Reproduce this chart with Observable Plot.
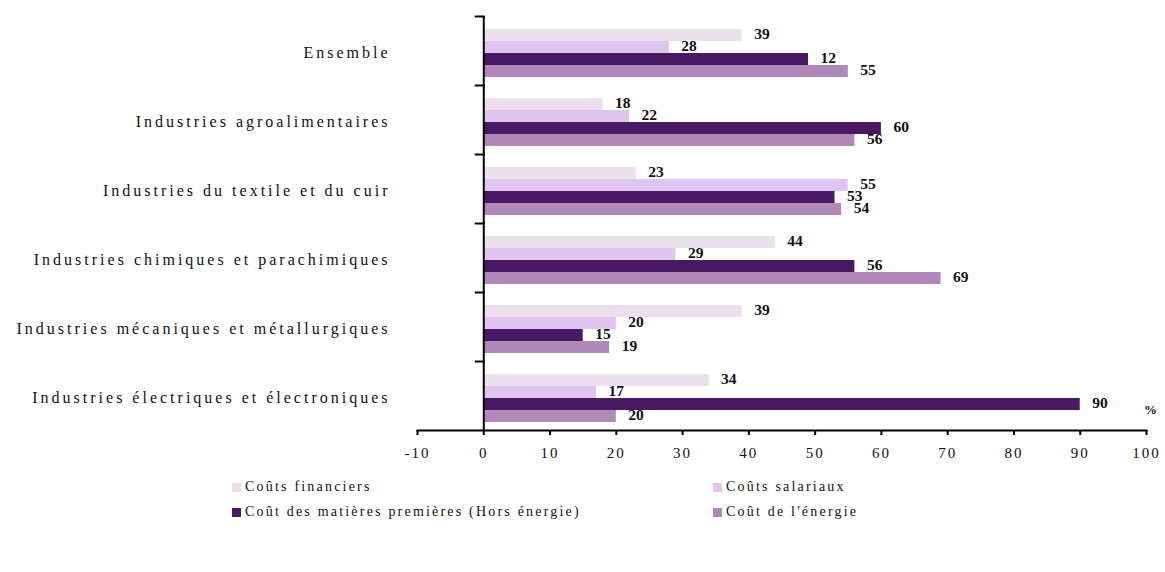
<!DOCTYPE html>
<html>
<head>
<meta charset="utf-8">
<script src="https://cdn.jsdelivr.net/npm/d3@7"></script>
<script src="https://cdn.jsdelivr.net/npm/@observablehq/plot@0.6"></script>
<style>
  body { margin: 0; background: #fff; font-family: "Liberation Serif", serif; }
  #chart { position: relative; width: 1165px; height: 572px; }
  #legend { position: absolute; left: 232px; top: 478px; display: grid; grid-template-columns: 481px 300px; row-gap: 7px; font-size: 14px; letter-spacing: 2.2px; color: #111; }
  .item { display: flex; align-items: center; height: 18px; }
  .sw { width: 9px; height: 9px; margin-right: 4px; }
  g[aria-description="category-labels"] text { letter-spacing: 3px; }
  g[aria-label="x-axis tick label"] text { letter-spacing: 2px; }
</style>
</head>
<body>
<div id="chart"></div>
<script>
const categories = [
  "Ensemble",
  "Industries agroalimentaires",
  "Industries du textile et du cuir",
  "Industries chimiques et parachimiques",
  "Industries mécaniques et métallurgiques",
  "Industries électriques et électroniques"
];
const series = [
  "Coûts financiers",
  "Coûts salariaux",
  "Coût des matières premières (Hors énergie)",
  "Coût de l'énergie"
];
const colors = ["#ebe0ec", "#e0c5f0", "#4a1963", "#b089b9"];
const financiers = [39, 18, 23, 44, 39, 34];
const salariaux = [28, 22, 55, 29, 20, 17];
const matieres = [49, 60, 53, 56, 15, 90];
const energie = [55, 56, 54, 69, 19, 20];
// labels as printed on the chart
const labelsFinanciers = [39, 18, 23, 44, 39, 34];
const labelsSalariaux = [28, 22, 55, 29, 20, 17];
const labelsMatieres = [12, 60, 53, 56, 15, 90];
const labelsEnergie = [55, 56, 54, 69, 19, 20];
const xTicks = [-10, 0, 10, 20, 30, 40, 50, 60, 70, 80, 90, 100];

const valuesBySeries = [financiers, salariaux, matieres, energie];
const labelsBySeries = [labelsFinanciers, labelsSalariaux, labelsMatieres, labelsEnergie];
const rows = [];
categories.forEach((c, i) => series.forEach((s, j) => rows.push({
  category: c, series: s, value: valuesBySeries[j][i], label: String(labelsBySeries[j][i])
})));

const W = 1165, ML = 417, MR = 19;
const pxPerUnit = (W - ML - MR) / (xTicks[xTicks.length - 1] - xTicks[0]);
const tickLen = 8;

const chart = Plot.plot({
  width: W, height: 460,
  marginLeft: ML, marginRight: MR, marginTop: 15, marginBottom: 30,
  style: { fontFamily: "Liberation Serif, serif", color: "#111", background: "white" },
  x: { domain: [xTicks[0], xTicks[xTicks.length - 1]], label: null },
  y: { domain: series, paddingInner: 0, paddingOuter: 0.76, align: 0.6, axis: null },
  fy: { domain: categories, padding: 0, axis: null, label: null },
  color: { domain: series, range: colors },
  marks: [
    Plot.barX(rows, { x: "value", y: "series", fy: "category", fill: "series" }),
    Plot.text(rows, { x: "value", y: "series", fy: "category", text: "label", textAnchor: "start", dx: 12, dy: -1, fontWeight: "bold", fontSize: 15.5, fill: "#111" }),
    Plot.ruleX([0], { strokeWidth: 2, stroke: "#000" }),
    Plot.frame({ anchor: "top", strokeWidth: 2, stroke: "#000",
      insetLeft: (0 - xTicks[0]) * pxPerUnit - tickLen,
      insetRight: xTicks[xTicks.length - 1] * pxPerUnit }),
    Plot.frame({ anchor: "bottom", facetAnchor: "bottom", strokeWidth: 2, stroke: "#000" }),
    Plot.axisX({ ticks: xTicks, tickFormat: d => String(d), tickSize: 5, tickPadding: 12, fontSize: 15, strokeWidth: 2, stroke: "#000", facetAnchor: "bottom" }),
    Plot.text(categories, { fy: d => d, text: d => d, frameAnchor: "left", textAnchor: "end", dx: -27, dy: 2, fontSize: 16, fill: "#111", ariaDescription: "category-labels" }),
    Plot.text(["%"], { fy: () => categories[categories.length - 1], x: () => xTicks[xTicks.length - 1], y: () => series[2], text: d => d, dx: 4, dy: 5, fontWeight: "bold", fontSize: 13 })
  ]
});
document.getElementById("chart").appendChild(chart);

const legend = document.createElement("div");
legend.id = "legend";
series.forEach((s, j) => {
  const it = document.createElement("div");
  it.className = "item";
  const sw = document.createElement("span");
  sw.className = "sw";
  sw.style.background = colors[j];
  it.appendChild(sw);
  it.appendChild(document.createTextNode(s));
  legend.appendChild(it);
});
document.getElementById("chart").appendChild(legend);
</script>
</body>
</html>
